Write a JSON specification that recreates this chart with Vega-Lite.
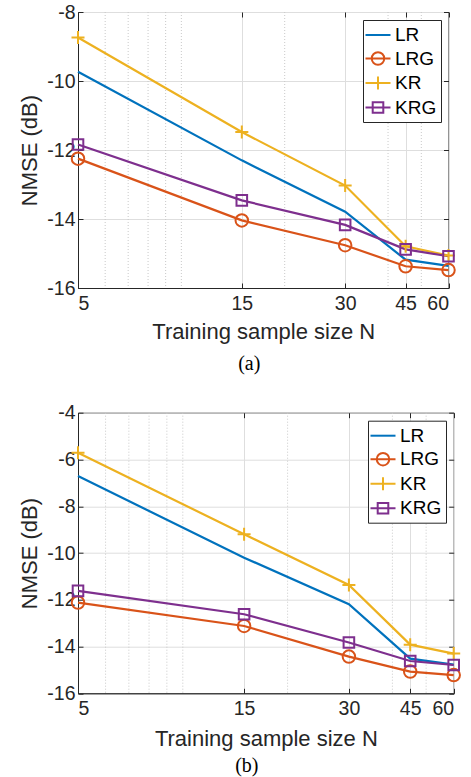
{
  "$schema": "https://vega.github.io/schema/vega-lite/v6.json",
  "background": "white",
  "padding": {"left": 18, "top": 1, "right": 5, "bottom": 2},
  "config": {
    "font": "Liberation Sans",
    "view": {"stroke": "#262626", "strokeWidth": 1},
    "axis": {
      "labelFont": "Liberation Sans", "labelFontSize": 19.5, "labelColor": "#262626",
      "titleFont": "Liberation Sans", "titleFontSize": 22, "titleFontWeight": "normal", "titleColor": "#262626",
      "domainColor": "#262626", "tickColor": "#262626", "gridColor": "#dedede", "gridWidth": 1, "tickSize": -5
    }
  },
  "datasets": {
    "a": [
      {"N": 5, "s": "LR", "v": -9.73}, {"N": 15, "s": "LR", "v": -12.30}, {"N": 30, "s": "LR", "v": -13.79}, {"N": 45, "s": "LR", "v": -15.18}, {"N": 60, "s": "LR", "v": -15.36},
      {"N": 5, "s": "LRG", "v": -12.25}, {"N": 15, "s": "LRG", "v": -14.04}, {"N": 30, "s": "LRG", "v": -14.76}, {"N": 45, "s": "LRG", "v": -15.37}, {"N": 60, "s": "LRG", "v": -15.48},
      {"N": 5, "s": "KR", "v": -8.74}, {"N": 15, "s": "KR", "v": -11.48}, {"N": 30, "s": "KR", "v": -13.03}, {"N": 45, "s": "KR", "v": -14.79}, {"N": 60, "s": "KR", "v": -15.06},
      {"N": 5, "s": "KRG", "v": -11.84}, {"N": 15, "s": "KRG", "v": -13.46}, {"N": 30, "s": "KRG", "v": -14.17}, {"N": 45, "s": "KRG", "v": -14.88}, {"N": 60, "s": "KRG", "v": -15.08}
    ],
    "b": [
      {"N": 5, "s": "LR", "v": -6.71}, {"N": 15, "s": "LR", "v": -10.2}, {"N": 30, "s": "LR", "v": -12.19}, {"N": 45, "s": "LR", "v": -14.52}, {"N": 60, "s": "LR", "v": -14.77},
      {"N": 5, "s": "LRG", "v": -12.12}, {"N": 15, "s": "LRG", "v": -13.12}, {"N": 30, "s": "LRG", "v": -14.43}, {"N": 45, "s": "LRG", "v": -15.07}, {"N": 60, "s": "LRG", "v": -15.22},
      {"N": 5, "s": "KR", "v": -5.71}, {"N": 15, "s": "KR", "v": -9.2}, {"N": 30, "s": "KR", "v": -11.37}, {"N": 45, "s": "KR", "v": -13.92}, {"N": 60, "s": "KR", "v": -14.3},
      {"N": 5, "s": "KRG", "v": -11.62}, {"N": 15, "s": "KRG", "v": -12.62}, {"N": 30, "s": "KRG", "v": -13.83}, {"N": 45, "s": "KRG", "v": -14.62}, {"N": 60, "s": "KRG", "v": -14.79}
    ],
    "minor": [{"m": 6}, {"m": 7}, {"m": 8}, {"m": 9}, {"m": 10}, {"m": 20}, {"m": 40}, {"m": 50}]
  },
  "bounds": "flush",
  "spacing": 124.7,
  "resolve": {"scale": {"color": "independent", "shape": "independent", "x": "independent", "y": "independent"}, "legend": {"color": "independent", "shape": "independent"}},
  "vconcat": [
    {
      "width": 370.5,
      "height": 276,
      "title": {"text": "(a)", "orient": "bottom", "font": "Liberation Serif", "fontSize": 20, "fontWeight": "normal", "color": "#000000", "dx": -14, "offset": 12},
      "resolve": {"axis": {"x": "independent", "y": "independent"}},
      "layer": [
        {
          "data": {"name": "minor"},
          "mark": {"type": "rule", "color": "#c9c9c9", "strokeWidth": 1, "strokeDash": [1, 2]},
          "encoding": {
            "x": {"field": "m", "type": "quantitative", "scale": {"type": "log", "domain": [5, 60], "nice": false}, "axis": null}
          }
        },
        {
          "data": {"name": "a"},
          "mark": {"type": "line", "strokeWidth": 2.2},
          "encoding": {
            "x": {"field": "N", "type": "quantitative", "scale": {"type": "log", "domain": [5, 60], "nice": false},
                  "axis": {"values": [5, 15, 30, 45, 60], "grid": true, "title": "Training sample size N", "labelPadding": 11.5, "titlePadding": 8}},
            "y": {"field": "v", "type": "quantitative", "scale": {"domain": [-16, -8], "nice": false, "zero": false},
                  "axis": {"values": [-16, -14, -12, -10, -8], "grid": true, "title": "NMSE (dB)", "labelPadding": 8, "titlePadding": 5,
                           "labelExpr": "datum.value < 0 ? '-' + abs(datum.value) : '' + datum.value"}},
            "color": {"field": "s", "type": "nominal", "scale": {"domain": ["LR", "LRG", "KR", "KRG"], "range": ["#0072BD", "#D95319", "#EDB120", "#7E2F8E"]},
                      "legend": {"title": null, "orient": "top-right", "offset": 8, "strokeColor": "#262626", "fillColor": "white",
                                 "padding": 4, "labelFont": "Liberation Sans", "labelFontSize": 19, "labelColor": "#000000",
                                 "symbolSize": 400, "symbolStrokeWidth": 2, "rowPadding": 2.5, "labelOffset": 6, "cornerRadius": 0,
                                 "encode": {"symbols": {"update": {
                                   "fill": {"value": "transparent"},
                                   "strokeWidth": {"value": 2},
                                   "shape": {"signal": "datum.value === 'LR' ? 'M-1.25,0H1.25' : datum.value === 'LRG' ? 'M-1.25,0H1.25M-0.625,0A0.625,0.625 0 1,0 0.625,0A0.625,0.625 0 1,0 -0.625,0Z' : datum.value === 'KR' ? 'M-1.25,0H1.25M0,-0.65V0.65' : 'M-1.25,0H1.25M-0.53,-0.53H0.53V0.53H-0.53Z'"}
                                 }}}}}
          }
        },
        {
          "data": {"name": "a"},
          "transform": [{"filter": "datum.s !== 'LR'"}],
          "mark": {"type": "point", "filled": false, "strokeWidth": 2, "size": 400, "opacity": 1},
          "encoding": {
            "x": {"field": "N", "type": "quantitative", "scale": {"type": "log", "domain": [5, 60], "nice": false},
                  "axis": {"orient": "top", "values": [5, 15, 30, 45, 60], "labels": false, "grid": false, "domain": false, "title": null}},
            "y": {"field": "v", "type": "quantitative", "scale": {"domain": [-16, -8], "nice": false, "zero": false},
                  "axis": {"orient": "right", "values": [-16, -14, -12, -10, -8], "labels": false, "grid": false, "domain": false, "title": null}},
            "color": {"field": "s", "type": "nominal", "scale": {"domain": ["LR", "LRG", "KR", "KRG"], "range": ["#0072BD", "#D95319", "#EDB120", "#7E2F8E"]}, "legend": null},
            "shape": {"field": "s", "type": "nominal", "legend": null,
                      "scale": {"domain": ["LRG", "KR", "KRG"],
                                "range": ["M-0.625,0A0.625,0.625 0 1,0 0.625,0A0.625,0.625 0 1,0 -0.625,0Z", "M-0.65,0H0.65M0,-0.65V0.65", "M-0.53,-0.53H0.53V0.53H-0.53Z"]}}
          }
        }
      ]
    },
    {
      "width": 375.7,
      "height": 280.6,
      "title": {"text": "(b)", "orient": "bottom", "font": "Liberation Serif", "fontSize": 20, "fontWeight": "normal", "color": "#000000", "dx": -19, "offset": 7},
      "resolve": {"axis": {"x": "independent", "y": "independent"}},
      "layer": [
        {
          "data": {"name": "minor"},
          "mark": {"type": "rule", "color": "#c9c9c9", "strokeWidth": 1, "strokeDash": [1, 2]},
          "encoding": {
            "x": {"field": "m", "type": "quantitative", "scale": {"type": "log", "domain": [5, 60], "nice": false}, "axis": null}
          }
        },
        {
          "data": {"name": "b"},
          "mark": {"type": "line", "strokeWidth": 2.2},
          "encoding": {
            "x": {"field": "N", "type": "quantitative", "scale": {"type": "log", "domain": [5, 60], "nice": false},
                  "axis": {"values": [5, 15, 30, 45, 60], "grid": true, "title": "Training sample size N", "labelPadding": 11.5, "titlePadding": 10}},
            "y": {"field": "v", "type": "quantitative", "scale": {"domain": [-16, -4], "nice": false, "zero": false},
                  "axis": {"values": [-16, -14, -12, -10, -8, -6, -4], "grid": true, "title": "NMSE (dB)", "labelPadding": 8, "titlePadding": 5,
                           "labelExpr": "datum.value < 0 ? '-' + abs(datum.value) : '' + datum.value"}},
            "color": {"field": "s", "type": "nominal", "scale": {"domain": ["LR", "LRG", "KR", "KRG"], "range": ["#0072BD", "#D95319", "#EDB120", "#7E2F8E"]},
                      "legend": {"title": null, "orient": "top-right", "offset": 8, "strokeColor": "#262626", "fillColor": "white",
                                 "padding": 4, "labelFont": "Liberation Sans", "labelFontSize": 19, "labelColor": "#000000",
                                 "symbolSize": 400, "symbolStrokeWidth": 2, "rowPadding": 2.5, "labelOffset": 6, "cornerRadius": 0,
                                 "encode": {"symbols": {"update": {
                                   "fill": {"value": "transparent"},
                                   "strokeWidth": {"value": 2},
                                   "shape": {"signal": "datum.value === 'LR' ? 'M-1.25,0H1.25' : datum.value === 'LRG' ? 'M-1.25,0H1.25M-0.625,0A0.625,0.625 0 1,0 0.625,0A0.625,0.625 0 1,0 -0.625,0Z' : datum.value === 'KR' ? 'M-1.25,0H1.25M0,-0.65V0.65' : 'M-1.25,0H1.25M-0.53,-0.53H0.53V0.53H-0.53Z'"}
                                 }}}}}
          }
        },
        {
          "data": {"name": "b"},
          "transform": [{"filter": "datum.s !== 'LR'"}],
          "mark": {"type": "point", "filled": false, "strokeWidth": 2, "size": 400, "opacity": 1},
          "encoding": {
            "x": {"field": "N", "type": "quantitative", "scale": {"type": "log", "domain": [5, 60], "nice": false},
                  "axis": {"orient": "top", "values": [5, 15, 30, 45, 60], "labels": false, "grid": false, "domain": false, "title": null}},
            "y": {"field": "v", "type": "quantitative", "scale": {"domain": [-16, -4], "nice": false, "zero": false},
                  "axis": {"orient": "right", "values": [-16, -14, -12, -10, -8, -6, -4], "labels": false, "grid": false, "domain": false, "title": null}},
            "color": {"field": "s", "type": "nominal", "scale": {"domain": ["LR", "LRG", "KR", "KRG"], "range": ["#0072BD", "#D95319", "#EDB120", "#7E2F8E"]}, "legend": null},
            "shape": {"field": "s", "type": "nominal", "legend": null,
                      "scale": {"domain": ["LRG", "KR", "KRG"],
                                "range": ["M-0.625,0A0.625,0.625 0 1,0 0.625,0A0.625,0.625 0 1,0 -0.625,0Z", "M-0.65,0H0.65M0,-0.65V0.65", "M-0.53,-0.53H0.53V0.53H-0.53Z"]}}
          }
        }
      ]
    }
  ]
}
